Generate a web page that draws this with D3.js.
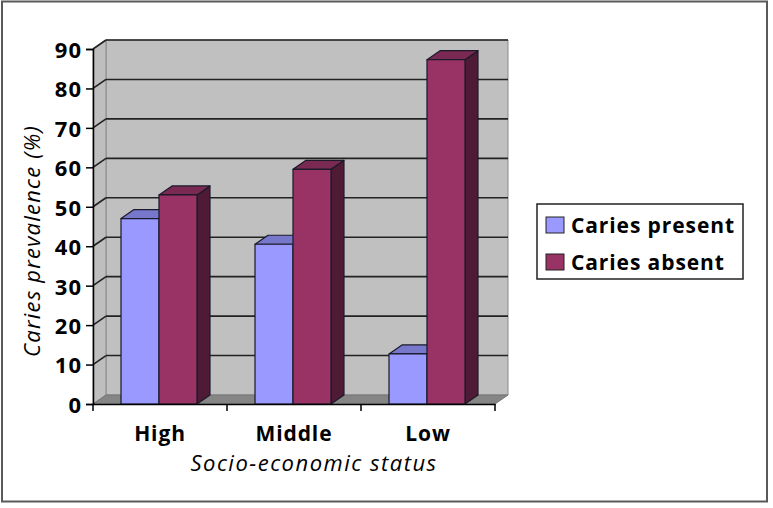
<!DOCTYPE html>
<html>
<head>
<meta charset="utf-8">
<script src="https://cdn.jsdelivr.net/npm/d3@7"></script>
<style>
  html, body { margin: 0; padding: 0; background: #fff; }
  svg { display: block; }
  text { font-family: "Open Sans", "DejaVu Sans", sans-serif; fill: #000; }
</style>
</head>
<body>
<svg id="chart" width="773" height="508"></svg>
<script>
// ---- Data ----
const categories = ["High", "Middle", "Low"];
const seriesNames = ["Caries present", "Caries absent"];
const cariesPresent = [47, 40.5, 12.7];
const cariesAbsent = [53, 59.5, 87.3];
const yTicks = [0, 10, 20, 30, 40, 50, 60, 70, 80, 90];
const yTitle = "Caries prevalence (%)";
const xTitle = "Socio-economic status";

// ---- Styles ----
const colors = {
  present: { front: "#9999FF", top: "#7777CC", side: "#5C5CA3" },
  absent:  { front: "#993366", top: "#7A2952", side: "#4F1A35" }
};

const svg = d3.select("#chart");

// outer border
svg.append("rect").attr("x", 2).attr("y", 1.5).attr("width", 765).attr("height", 500)
  .attr("fill", "#fff").attr("stroke", "#5a5a5a").attr("stroke-width", 2);

// geometry
const xLeft = 93, xRight = 495;
const dx = 13, dy = -9;
const y = d3.scaleLinear().domain([0, 90]).range([404, 49]);
const x0 = d3.scaleBand().domain(categories).range([xLeft, xRight]).padding(0);
const bw = x0.bandwidth();
const x1 = d3.scaleBand().domain(seriesNames).range([bw * 0.209, bw * 0.776]).padding(0);

const g = svg.append("g");
const poly = pts => "M" + pts.map(p => p.join(",")).join("L") + "Z";

// back wall
g.append("path").attr("d", poly([[xLeft + dx, y(90) + dy], [xRight + dx, y(90) + dy], [xRight + dx, y(0) + dy], [xLeft + dx, y(0) + dy]]))
  .attr("fill", "#C0C0C0").attr("stroke", "#8a8a8a").attr("stroke-width", 1);
// left wall
g.append("path").attr("d", poly([[xLeft, y(90)], [xLeft + dx, y(90) + dy], [xLeft + dx, y(0) + dy], [xLeft, y(0)]]))
  .attr("fill", "#BEBEBE").attr("stroke", "#8a8a8a").attr("stroke-width", 1);
// floor
g.append("path").attr("d", poly([[xLeft, y(0)], [xLeft + dx, y(0) + dy], [xRight + dx, y(0) + dy], [xRight, y(0)]]))
  .attr("fill", "#858585").attr("stroke", "#777").attr("stroke-width", 1);

// gridlines (back wall + left wall diagonals)
const grid = g.append("g");
yTicks.filter(t => t > 0).forEach(t => {
  grid.append("line").attr("x1", xLeft + dx).attr("x2", xRight + dx)
    .attr("y1", y(t) + dy).attr("y2", y(t) + dy)
    .attr("stroke", "#222").attr("stroke-width", 1.6);
  grid.append("line").attr("x1", xLeft).attr("x2", xLeft + dx)
    .attr("y1", y(t)).attr("y2", y(t) + dy)
    .attr("stroke", "#222").attr("stroke-width", 1.6);
});

// bars
const bars = g.append("g");
categories.forEach((c, i) => {
  [["Caries present", cariesPresent[i], colors.present], ["Caries absent", cariesAbsent[i], colors.absent]].forEach(([s, v, col]) => {
    const xa = x0(c) + x1(s), xb = xa + x1.bandwidth();
    const yt = y(v), yb = y(0);
    const bg = bars.append("g").attr("stroke", "#1a1a2a").attr("stroke-width", 1.2).attr("stroke-linejoin", "round");
    bg.append("path").attr("d", poly([[xb, yt], [xb + dx, yt + dy], [xb + dx, yb + dy], [xb, yb]])).attr("fill", col.side);
    bg.append("path").attr("d", poly([[xa, yt], [xa + dx, yt + dy], [xb + dx, yt + dy], [xb, yt]])).attr("fill", col.top);
    bg.append("path").attr("d", poly([[xa, yt], [xb, yt], [xb, yb], [xa, yb]])).attr("fill", col.front);
  });
});

// y axis
const yAxis = d3.axisLeft(y).tickValues(yTicks).tickSize(7).tickPadding(4).tickFormat(d3.format("d"));
const ya = svg.append("g").attr("transform", `translate(${xLeft},0)`).call(yAxis);
ya.select(".domain").attr("stroke", "#000").attr("stroke-width", 1.5);
ya.selectAll(".tick line").attr("stroke", "#000").attr("stroke-width", 1.5);
ya.selectAll(".tick text").attr("font-family", "Open Sans").attr("font-weight", "bold")
  .attr("font-size", 22).attr("letter-spacing", 1).attr("dy", "0.38em");

// x axis
const xAxis = d3.axisBottom(x0).tickValues([]).tickSizeOuter(0);
const xa = svg.append("g").attr("transform", `translate(0,${y(0)})`).call(xAxis);
xa.select(".domain").attr("stroke", "#000").attr("stroke-width", 1.5);
const tickPos = [xLeft, ...categories.map(c => x0(c) + bw)];
xa.selectAll(".sep").data(tickPos).enter().append("line")
  .attr("x1", d => d).attr("x2", d => d).attr("y1", 0).attr("y2", 7)
  .attr("stroke", "#000").attr("stroke-width", 1.5);
xa.selectAll(".cat").data(categories).enter().append("text")
  .attr("x", d => x0(d) + bw / 2).attr("y", 36.5)
  .attr("text-anchor", "middle").attr("font-weight", "bold").attr("font-size", 21)
  .attr("letter-spacing", 0.9).text(d => d);

// axis titles
svg.append("text").attr("transform", "translate(40,241) rotate(-90)")
  .attr("text-anchor", "middle").attr("font-style", "italic").attr("font-size", 22)
  .attr("letter-spacing", 1.2).text(yTitle);
svg.append("text").attr("x", 314).attr("y", 471)
  .attr("text-anchor", "middle").attr("font-style", "italic").attr("font-size", 22)
  .attr("letter-spacing", 1.5).text(xTitle);

// legend
const lg = svg.append("g");
lg.append("rect").attr("x", 537).attr("y", 204).attr("width", 206).attr("height", 75)
  .attr("fill", "#fff").attr("stroke", "#222").attr("stroke-width", 1.5);
const legendItems = [[seriesNames[0], colors.present.front], [seriesNames[1], colors.absent.front]];
legendItems.forEach(([name, col], i) => {
  lg.append("rect").attr("x", 546).attr("y", 217 + i * 37).attr("width", 18).attr("height", 16)
    .attr("fill", col).attr("stroke", "#222").attr("stroke-width", 1);
  lg.append("text").attr("x", 571).attr("y", 233 + i * 37)
    .attr("font-weight", "bold").attr("font-size", 21).attr("letter-spacing", 0.9).text(name);
});
</script>
</body>
</html>
